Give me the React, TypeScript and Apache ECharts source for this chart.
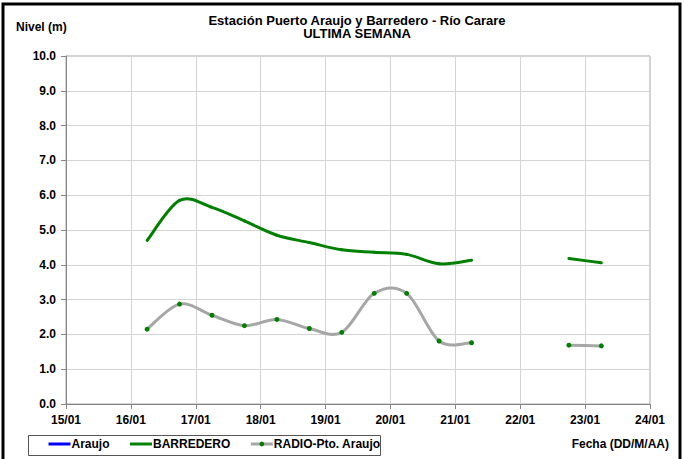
import React, { useEffect, useRef } from "react";
import * as echarts from "echarts";

const titleLine1 = "Estación Puerto Araujo y Barredero - Río Carare";
const titleLine2 = "ULTIMA SEMANA";
const yAxisTitle = "Nivel (m)";
const xAxisTitle = "Fecha (DD/M/AA)";
const seriesNames = ["Araujo", "BARREDERO", "RADIO-Pto. Araujo"];

// day of January (fractional: .25 = 06:00, .75 = 18:00)
const times = [16.25, 16.75, 17.25, 17.75, 18.25, 18.75, 19.25, 19.75, 20.25, 20.75, 21.25, 21.75, 22.25, 22.75, 23.25];
const araujo: (number | null)[] = [null, null, null, null, null, null, null, null, null, null, null, null, null, null, null];
const barredero: (number | null)[] = [4.7, 5.85, 5.65, 5.26, 4.85, 4.64, 4.43, 4.36, 4.3, 4.03, 4.13, null, null, 4.18, 4.06];
const radio: (number | null)[] = [2.15, 2.87, 2.55, 2.25, 2.43, 2.17, 2.06, 3.18, 3.18, 1.81, 1.76, null, null, 1.69, 1.67];

const xMin = 15;
const xMax = 24;
const yMin = 0;
const yMax = 10;

const FONT = "'Liberation Sans', Arial, sans-serif";
const BLUE = "#0000ff";
const GREEN = "#008000";
const GRAY = "#a6a6a6";

function pairs(vals: (number | null)[]) {
  return times.map((t, i) => [t, vals[i] === null ? "-" : vals[i]]);
}

function segments(vals: (number | null)[]) {
  const out: number[][] = [];
  for (let i = 0; i < times.length - 1; i++) {
    if (vals[i] !== null && vals[i + 1] !== null) out.push([times[i], vals[i] as number, i]);
  }
  return out;
}

// Excel-style (Catmull-Rom) smoothing, positioned through the chart's own scales
function smoothRenderer(vals: (number | null)[], color: string) {
  return (_params: any, api: any) => {
    const i = api.value(2) as number;
    const n = times.length;
    const pt = (k: number) => api.coord([times[k], vals[k]]);
    const p1 = pt(i);
    const p2 = pt(i + 1);
    const p0 = i - 1 >= 0 && vals[i - 1] !== null ? pt(i - 1) : p1;
    const p3 = i + 2 < n && vals[i + 2] !== null ? pt(i + 2) : p2;
    const t = 1 / 6;
    return {
      type: "bezierCurve",
      shape: {
        x1: p1[0],
        y1: p1[1],
        x2: p2[0],
        y2: p2[1],
        cpx1: p1[0] + (p2[0] - p0[0]) * t,
        cpy1: p1[1] + (p2[1] - p0[1]) * t,
        cpx2: p2[0] - (p3[0] - p1[0]) * t,
        cpy2: p2[1] - (p3[1] - p1[1]) * t,
      },
      style: { stroke: color, lineWidth: 3, fill: null, lineCap: "round" },
    };
  };
}

export default function App() {
  const ref = useRef<HTMLDivElement>(null);
  useEffect(() => {
    if (!ref.current) return;
    const chart = echarts.init(ref.current, undefined, { renderer: "svg" });
    chart.setOption({
      animation: false,
      backgroundColor: "#ffffff",
      textStyle: { fontFamily: FONT },
      grid: {
        left: 66,
        right: 34,
        top: 56,
        bottom: 55,
        show: true,
        borderColor: "#a6a6a6",
        borderWidth: 1,
      },
      xAxis: {
        type: "value",
        min: xMin,
        max: xMax,
        interval: 1,
        axisLine: { show: true, onZero: false, lineStyle: { color: "#868686", width: 1 } },
        axisTick: { show: true, length: 5, lineStyle: { color: "#868686" } },
        splitLine: { show: true, lineStyle: { color: "#d4d4d4", width: 1 } },
        axisLabel: {
          color: "#000",
          fontWeight: "bold",
          fontSize: 12,
          fontFamily: FONT,
          margin: 10,
          formatter: (v: number) => `${String(Math.round(v)).padStart(2, "0")}/01`,
        },
      },
      yAxis: {
        type: "value",
        min: yMin,
        max: yMax,
        interval: 1,
        axisLine: { show: true, lineStyle: { color: "#868686", width: 1 } },
        axisTick: { show: true, length: 5, lineStyle: { color: "#868686" } },
        splitLine: { show: true, lineStyle: { color: "#d4d4d4", width: 1 } },
        axisLabel: {
          color: "#000",
          fontWeight: "bold",
          fontSize: 12,
          fontFamily: FONT,
          margin: 10,
          formatter: (v: number) => v.toFixed(1),
        },
      },
      legend: {
        left: 47,
        top: 438,
        itemWidth: 22,
        itemHeight: 6,
        itemGap: 19,
        padding: 0,
        textStyle: { color: "#000", fontWeight: "bold", fontSize: 12, fontFamily: FONT, padding: [0, 0, 0, -4] },
        data: [
          { name: seriesNames[0], itemStyle: { color: "rgba(0,0,0,0)" }, lineStyle: { color: BLUE, width: 3, opacity: 1 } },
          { name: seriesNames[1], itemStyle: { color: "rgba(0,0,0,0)" }, lineStyle: { color: GREEN, width: 3, opacity: 1 } },
          { name: seriesNames[2], itemStyle: { color: GREEN }, lineStyle: { color: GRAY, width: 3, opacity: 1 } },
        ],
      },
      graphic: [
        {
          type: "rect",
          shape: { x: 3, y: 4, width: 677, height: 470 },
          style: { fill: "none", stroke: "#000", lineWidth: 3 },
          silent: true,
        },
        {
          type: "rect",
          shape: { x: 28.5, y: 435.5, width: 352, height: 20 },
          style: { fill: "none", stroke: "#555", lineWidth: 1 },
          silent: true,
        },
        {
          type: "text",
          x: 357,
          y: 20,
          style: { text: titleLine1, fill: "#000", font: `bold 13px ${FONT}`, align: "center", verticalAlign: "middle" },
        },
        {
          type: "text",
          x: 357,
          y: 33.5,
          style: { text: titleLine2, fill: "#000", font: `bold 13px ${FONT}`, align: "center", verticalAlign: "middle" },
        },
        {
          type: "text",
          x: 16,
          y: 27,
          style: { text: yAxisTitle, fill: "#000", font: `bold 12px ${FONT}`, align: "left", verticalAlign: "middle" },
        },
        {
          type: "text",
          x: 669,
          y: 444,
          style: { text: xAxisTitle, fill: "#000", font: `bold 12px ${FONT}`, align: "right", verticalAlign: "middle" },
        },
      ],
      series: [
        {
          name: "BARREDERO-curve",
          type: "custom",
          data: segments(barredero),
          encode: { x: 0, y: 1 },
          renderItem: smoothRenderer(barredero, GREEN),
          silent: true,
          clip: true,
        },
        {
          name: "RADIO-curve",
          type: "custom",
          data: segments(radio),
          encode: { x: 0, y: 1 },
          renderItem: smoothRenderer(radio, GRAY),
          silent: true,
          clip: true,
        },
        {
          name: seriesNames[0],
          type: "line",
          data: pairs(araujo),
          symbol: "none",
          lineStyle: { color: BLUE, width: 3 },
          itemStyle: { color: BLUE },
        },
        {
          name: seriesNames[1],
          type: "line",
          data: pairs(barredero),
          connectNulls: false,
          symbol: "none",
          lineStyle: { color: GREEN, width: 3, opacity: 0 },
          itemStyle: { color: GREEN },
        },
        {
          name: seriesNames[2],
          type: "line",
          data: pairs(radio),
          connectNulls: false,
          symbol: "circle",
          symbolSize: 5,
          lineStyle: { color: GRAY, width: 3, opacity: 0 },
          itemStyle: { color: GREEN, borderWidth: 0 },
          z: 3,
        },
      ],
    });
    return () => chart.dispose();
  }, []);
  return (
    <div
      ref={ref}
      style={{ position: "fixed", left: 0, top: 0, width: 684, height: 459, background: "#fff" }}
    />
  );
}
